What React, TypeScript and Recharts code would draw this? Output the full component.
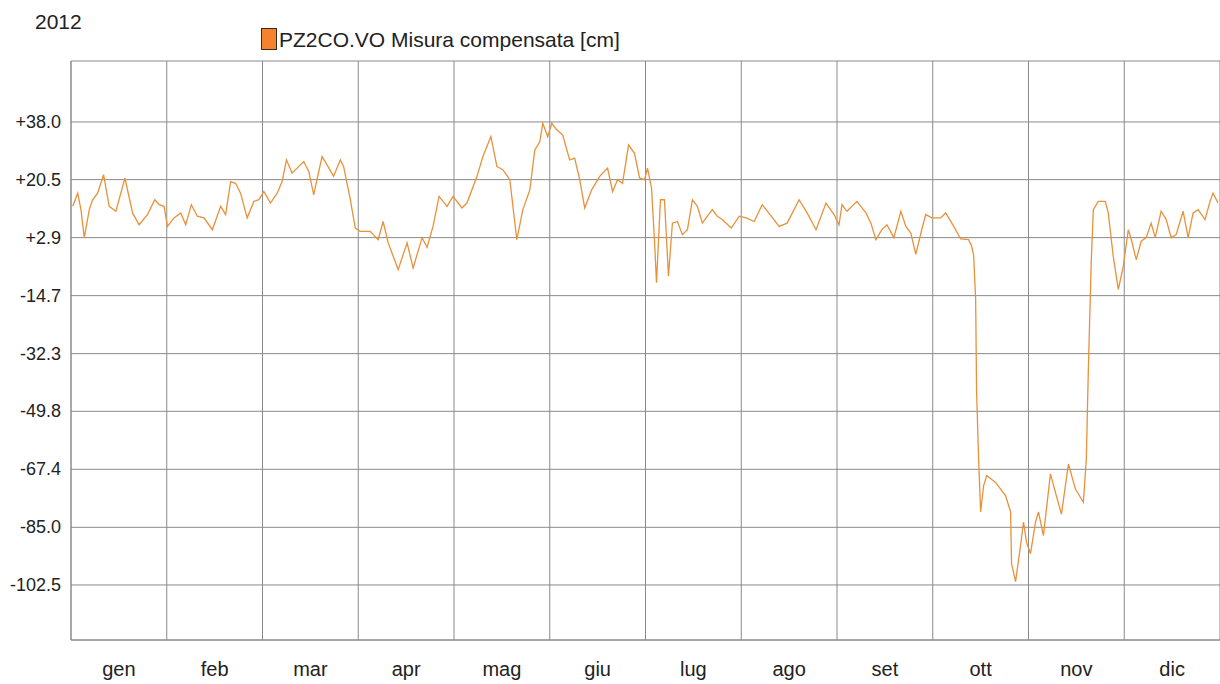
import { LineChart, Line, XAxis, YAxis, CartesianGrid } from "recharts";

// posizione nel mese (0 = inizio gen, 12 = fine dic) e misura in cm
const monthPos = [
  0.018, 0.07, 0.104, 0.139, 0.191, 0.226, 0.278, 0.34, 0.399, 0.469, 0.563, 0.643, 0.711, 0.799, 0.875, 0.92, 0.972,
  1.007, 1.076, 1.146, 1.198, 1.257, 1.319, 1.389, 1.476, 1.563, 1.615, 1.667, 1.719, 1.771, 1.84, 1.91, 1.962,
  2.014, 2.083, 2.153, 2.205, 2.25, 2.309, 2.361, 2.431, 2.483, 2.535, 2.569, 2.622, 2.674, 2.743, 2.813, 2.847, 2.917, 2.969,
  3.021, 3.125, 3.208, 3.26, 3.313, 3.417, 3.51, 3.573, 3.667, 3.719, 3.781, 3.844, 3.927, 3.99,
  4.083, 4.135, 4.24, 4.302, 4.385, 4.448, 4.51, 4.583, 4.656, 4.719, 4.792, 4.844, 4.896, 4.927, 4.979,
  5.021, 5.073, 5.135, 5.208, 5.26, 5.313, 5.365, 5.438, 5.521, 5.604, 5.656, 5.708, 5.76, 5.823, 5.885, 5.938, 5.99,
  6.021, 6.063, 6.094, 6.115, 6.156, 6.198, 6.24, 6.281, 6.333, 6.385, 6.438, 6.49, 6.542, 6.594, 6.646, 6.698, 6.75, 6.802, 6.896, 6.979,
  7.052, 7.135, 7.219, 7.313, 7.396, 7.479, 7.604, 7.688, 7.781, 7.885, 7.969,
  8.021, 8.052, 8.104, 8.208, 8.302, 8.354, 8.406, 8.469, 8.521, 8.594, 8.667, 8.719, 8.771, 8.823, 8.885, 8.927, 8.99,
  9.083, 9.135, 9.219, 9.292, 9.375, 9.406, 9.427, 9.448, 9.458, 9.479, 9.5, 9.531, 9.563, 9.656, 9.76, 9.813, 9.823, 9.865, 9.917, 9.948, 9.979,
  10.021, 10.073, 10.104, 10.156, 10.229, 10.281, 10.344, 10.417, 10.49, 10.573, 10.604, 10.625, 10.656, 10.677, 10.729, 10.802, 10.833, 10.885, 10.938, 10.99,
  11.042, 11.073, 11.125, 11.177, 11.229, 11.281, 11.323, 11.385, 11.438, 11.49, 11.542, 11.615, 11.667, 11.719, 11.771, 11.844, 11.896, 11.927, 11.979,
];

const misura = [
  12.4, 16.4, 11.4, 2.9, 11.4, 14.4, 16.4, 22.0, 12.4, 10.9, 21.0, 10.4, 6.8, 9.9, 14.4, 12.9, 12.4,
  6.3, 8.9, 10.4, 6.8, 12.9, 9.4, 8.9, 5.3, 12.4, 9.9, 19.9, 19.4, 16.4, 8.9, 13.9, 14.4,
  16.9, 13.4, 16.4, 19.9, 26.5, 22.5, 24.0, 26.0, 23.0, 15.9, 20.5, 27.5, 25.0, 21.5, 26.5, 24.5, 14.4, 5.8,
  4.8, 4.8, 2.3, 7.8, 1.3, -6.8, 1.3, -6.3, 2.9, -0.1, 6.3, 15.4, 12.4, 15.4,
  11.9, 13.4, 21.5, 27.5, 33.6, 24.5, 23.5, 20.5, 2.3, 11.4, 17.4, 29.5, 32.0, 37.6, 33.5,
  37.6, 35.6, 34.1, 26.5, 27.0, 20.5, 11.9, 17.4, 21.5, 24.0, 16.9, 20.5, 19.4, 31.0, 28.5, 21.0, 20.5,
  24.0, 17.9, 1.9, -10.8, 14.4, 14.4, -8.8, 7.3, 7.8, 3.8, 5.3, 14.4, 12.4, 7.3, 9.4, 11.4, 9.4, 8.4, 5.8, 9.4,
  8.9, 7.8, 12.9, 9.4, 6.3, 7.3, 14.4, 10.4, 5.3, 13.4, 9.9,
  6.8, 12.9, 10.9, 13.9, 10.4, 7.3, 2.3, 5.3, 6.8, 2.9, 10.9, 6.3, 4.3, -2.2, 5.3, 9.9, 8.9,
  8.9, 10.4, 6.3, 2.5, 2.3, 0.3, -2.5, -15.8, -44.0, -64.3, -80.3, -72.4, -69.3, -71.4, -75.4, -80.3, -96.0, -101.5, -90.5, -83.4, -89.5,
  -93.0, -83.4, -80.3, -87.5, -68.8, -74.4, -81.0, -65.8, -73.4, -77.4, -64.3, -37.0, -3.8, 11.4, 13.9, 13.9, 10.4, -2.8, -12.8, -5.8,
  5.3, 2.4, -3.8, 1.8, 2.9, 7.3, 2.9, 10.9, 8.4, 2.9, 3.8, 10.9, 2.9, 10.4, 11.4, 8.4, 13.9, 16.4, 13.4,
];

const mesi = ["gen", "feb", "mar", "apr", "mag", "giu", "lug", "ago", "set", "ott", "nov", "dic"];
const mesiTicks = [0.5, 1.5, 2.5, 3.5, 4.5, 5.5, 6.5, 7.5, 8.5, 9.5, 10.5, 11.5];
const yTicks = [38.0, 20.5, 2.9, -14.7, -32.3, -49.8, -67.4, -85.0, -102.5];
const yLabels = ["+38.0", "+20.5", "+2.9", "-14.7", "-32.3", "-49.8", "-67.4", "-85.0", "-102.5"];
const yMin = -119.2;
const yMax = 56.5;

const data = monthPos.map((t, i) => ({ t, v: misura[i] }));

const FONT = "'Liberation Sans', Arial, sans-serif";

function YTick(props: any) {
  const idx = yTicks.indexOf(props.payload.value);
  return (
    <text x={61} y={props.y} dy={6} textAnchor="end" fontFamily={FONT} fontSize={18} fill="#222">
      {idx >= 0 ? yLabels[idx] : ""}
    </text>
  );
}

function XTick(props: any) {
  const idx = mesiTicks.indexOf(props.payload.value);
  return (
    <text x={props.x} y={676} textAnchor="middle" fontFamily={FONT} fontSize={20} fill="#222">
      {idx >= 0 ? mesi[idx] : ""}
    </text>
  );
}

export default function App() {
  return (
    <div style={{ position: "absolute", left: 0, top: 0, width: 1220, height: 684, background: "#fff", fontFamily: FONT }}>
      <div style={{ position: "absolute", left: 35, top: 11, fontSize: 21, lineHeight: "21px", color: "#222" }}>2012</div>
      <div
        style={{
          position: "absolute",
          left: 261,
          top: 28,
          width: 14,
          height: 20,
          background: "#F5822E",
          border: "1px solid #3a2a1a",
        }}
      />
      <div style={{ position: "absolute", left: 279, top: 29, fontSize: 21, lineHeight: "21px", color: "#222", whiteSpace: "nowrap" }}>
        PZ2CO.VO Misura compensata [cm]
      </div>
      <LineChart width={1220} height={684} data={data} margin={{ top: 61, right: 0, left: 0, bottom: 0 }}>
        <CartesianGrid
          stroke="#8a8a8a"
          horizontalValues={[yMax, ...yTicks, yMin]}
          verticalValues={[0, 1, 2, 3, 4, 5, 6, 7, 8, 9, 10, 11, 12]}
        />
        <XAxis
          dataKey="t"
          type="number"
          domain={[0, 12]}
          ticks={mesiTicks}
          tick={<XTick />}
          tickLine={false}
          axisLine={{ stroke: "#8a8a8a" }}
          height={44}
          interval={0}
        />
        <YAxis
          type="number"
          domain={[yMin, yMax]}
          ticks={yTicks}
          tick={<YTick />}
          tickLine={false}
          axisLine={{ stroke: "#8a8a8a" }}
          width={71}
          interval={0}
          allowDataOverflow
        />
        <Line
          type="linear"
          dataKey="v"
          stroke="#E8913A"
          strokeWidth={1.3}
          dot={false}
          isAnimationActive={false}
        />
      </LineChart>
    </div>
  );
}
